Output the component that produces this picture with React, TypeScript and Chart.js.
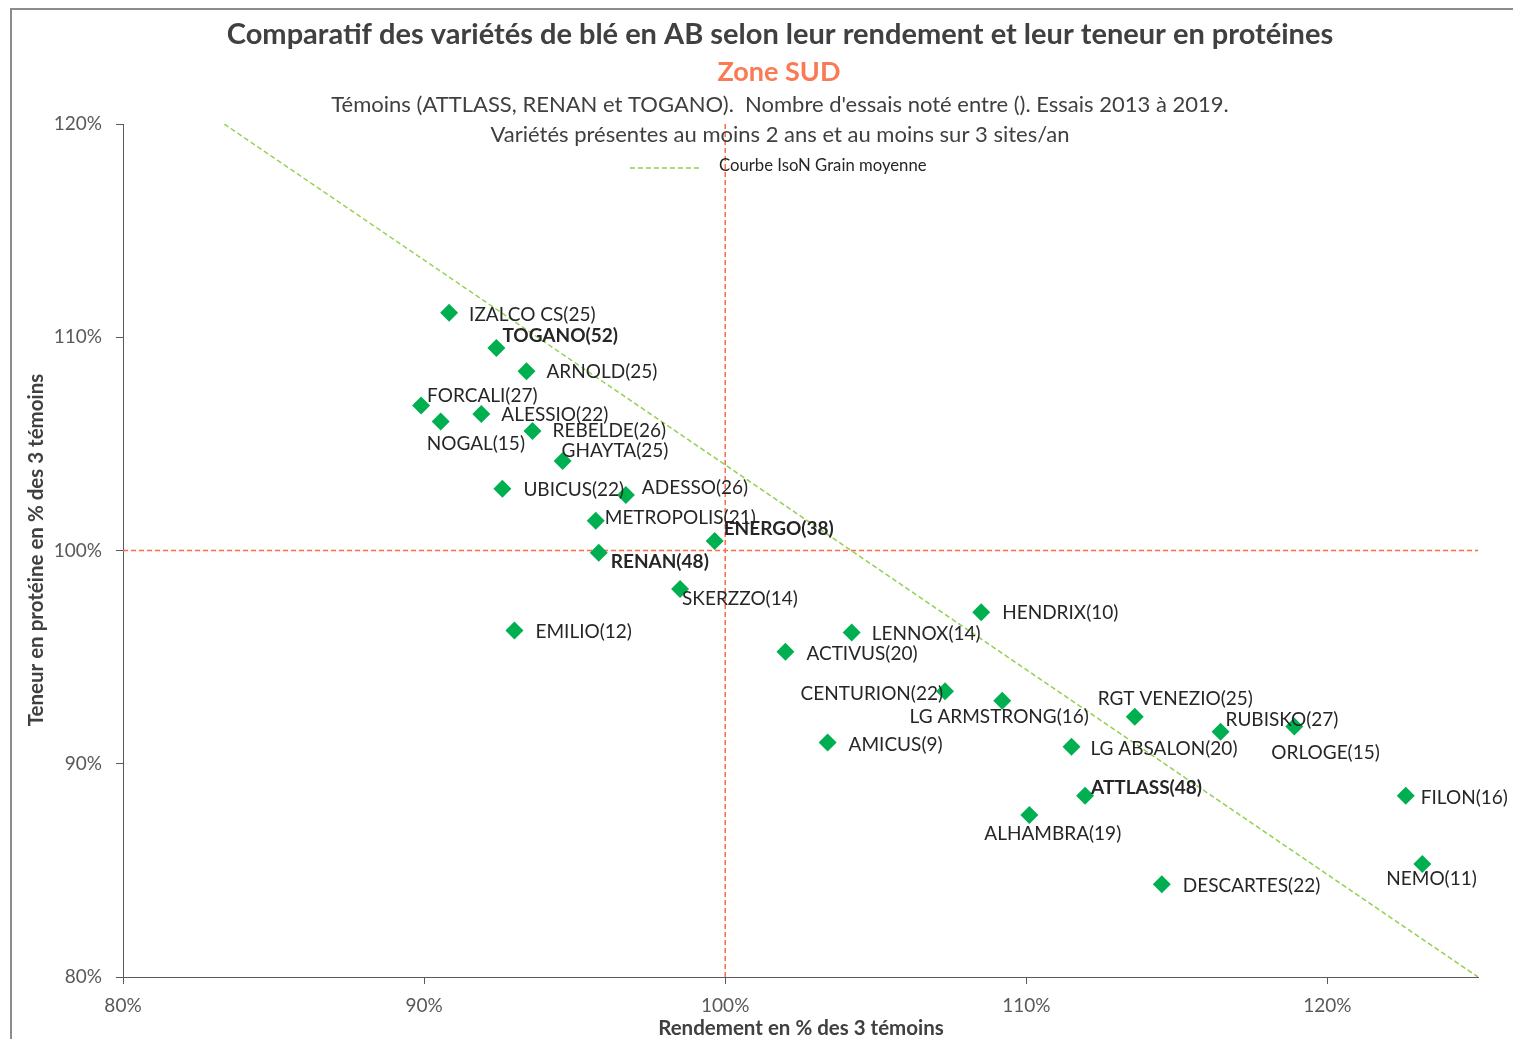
import React, { useEffect, useRef } from "react";
import { Chart, registerables } from "chart.js";

Chart.register(...registerables);

// ---------- DATA ----------
const varieties = [
  "IZALCO CS", "TOGANO", "ARNOLD", "FORCALI", "ALESSIO", "NOGAL", "REBELDE", "GHAYTA",
  "UBICUS", "ADESSO", "METROPOLIS", "ENERGO", "RENAN", "SKERZZO", "EMILIO", "HENDRIX",
  "LENNOX", "ACTIVUS", "CENTURION", "LG ARMSTRONG", "RGT VENEZIO", "RUBISKO", "ORLOGE",
  "AMICUS", "LG ABSALON", "ATTLASS", "ALHAMBRA", "FILON", "NEMO", "DESCARTES",
];
const trials = [25, 52, 25, 27, 22, 15, 26, 25, 22, 26, 21, 38, 48, 14, 12, 10, 14, 20, 22, 16, 25, 27, 15, 9, 20, 48, 19, 16, 11, 22];
const rendement = [
  90.83, 92.4, 93.4, 89.9, 91.9, 90.55, 93.6, 94.6,
  92.6, 96.7, 95.7, 99.65, 95.8, 98.5, 93.0, 108.5,
  104.2, 102.0, 107.3, 109.2, 113.6, 116.45, 118.9,
  103.4, 111.5, 111.95, 110.1, 122.6, 123.15, 114.5,
];
const proteine = [
  111.15, 109.5, 108.4, 106.8, 106.4, 106.05, 105.6, 104.2,
  102.9, 102.6, 101.4, 100.45, 99.9, 98.2, 96.25, 97.1,
  96.15, 95.25, 93.4, 92.95, 92.2, 91.5, 91.75,
  91.0, 90.8, 88.5, 87.6, 88.5, 85.3, 84.35,
];
const controls = ["TOGANO", "RENAN", "ATTLASS", "ENERGO"];
const isoNX = [83.36, 125];
const isoNY = [120, 80];
const refX = 100;
const refY = 100;
const xTicks = [80, 90, 100, 110, 120];
const yTicks = [80, 90, 100, 110, 120];

// ---------- LABEL PLACEMENT (px offsets from the point) ----------
const labelOffsets: [number, number, CanvasTextAlign][] = [
  [20, 2, "left"], [6, -12, "left"], [20, 1, "left"], [6, -10, "left"], [20, 1, "left"],
  [-14, 22, "left"], [20, 0, "left"], [-1, -10, "left"], [21, 1, "left"], [16, -7, "left"],
  [9, -3, "left"], [9, -12, "left"], [12, 9, "left"], [2, 10, "left"], [21, 1, "left"],
  [21, 1, "left"], [20, 1, "left"], [21, 2, "left"], [-2, 3, "right"], [-3, 16, "center"],
  [-37, -18, "left"], [5, -12, "left"], [-23, 26, "left"], [21, 2, "left"], [19, 2, "left"],
  [6, -8, "left"], [-45, 19, "left"], [15, 2, "left"], [-36, 15, "left"], [21, 2, "left"],
];

const FONT = "Lato, 'Open Sans', sans-serif";
const GREEN = "#00B050";
const ISO_GREEN = "#92D050";
const RED = "#FF6A45";

const decorPlugin = {
  id: "decor",
  beforeDraw(chart: any) {
    const ctx = chart.ctx;
    ctx.save();
    ctx.fillStyle = "#ffffff";
    ctx.fillRect(0, 0, chart.width, chart.height);
    ctx.strokeStyle = "#8c8c8c";
    ctx.lineWidth = 2;
    ctx.beginPath();
    ctx.moveTo(11, chart.height);
    ctx.lineTo(11, 9);
    ctx.lineTo(chart.width, 9);
    ctx.stroke();
    ctx.restore();
  },
  afterDraw(chart: any) {
    const ctx = chart.ctx;
    ctx.save();
    ctx.textAlign = "center";
    ctx.textBaseline = "middle";
    ctx.fillStyle = "#404040";
    ctx.font = `bold 29px ${FONT}`;
    ctx.fillText("Comparatif des variétés de blé en AB selon leur rendement et leur teneur en protéines", 780, 35);
    ctx.fillStyle = "#F97A54";
    ctx.font = `bold 27px ${FONT}`;
    ctx.fillText("Zone SUD", 779, 72);
    ctx.fillStyle = "#404040";
    ctx.font = `22px ${FONT}`;
    ctx.fillText("Témoins (ATTLASS, RENAN et TOGANO).  Nombre d'essais noté entre (). Essais 2013 à 2019.", 780, 105);
    ctx.fillText("Variétés présentes au moins 2 ans et au moins sur 3 sites/an", 780, 135);
    // legend
    ctx.strokeStyle = ISO_GREEN;
    ctx.lineWidth = 1.5;
    ctx.setLineDash([5, 3]);
    ctx.beginPath();
    ctx.moveTo(630, 168);
    ctx.lineTo(701, 168);
    ctx.stroke();
    ctx.setLineDash([]);
    ctx.textAlign = "left";
    ctx.fillStyle = "#262626";
    ctx.font = `16.7px ${FONT}`;
    ctx.fillText("Courbe IsoN Grain moyenne", 719, 166);
    // axis titles
    ctx.fillStyle = "#404040";
    ctx.textAlign = "center";
    ctx.font = `bold 20.5px ${FONT}`;
    ctx.fillText("Rendement en % des 3 témoins", 801, 1028);
    ctx.translate(36, 550);
    ctx.rotate(-Math.PI / 2);
    ctx.fillText("Teneur en protéine en % des 3 témoins", 0, 0);
    ctx.restore();
  },
  afterDatasetsDraw(chart: any) {
    const ctx = chart.ctx;
    const xs = chart.scales.x;
    const ys = chart.scales.y;
    ctx.save();
    ctx.textBaseline = "middle";
    ctx.fillStyle = "#262626";
    varieties.forEach((name, i) => {
      const px = xs.getPixelForValue(rendement[i]);
      const py = ys.getPixelForValue(proteine[i]);
      const [dx, dy, align] = labelOffsets[i];
      const bold = controls.includes(name);
      ctx.font = `${bold ? "bold " : ""}19px ${FONT}`;
      ctx.textAlign = align;
      ctx.fillText(`${name}(${trials[i]})`, px + dx, py + dy);
    });
    ctx.restore();
  },
};

export default function App() {
  const ref = useRef<HTMLCanvasElement>(null);
  useEffect(() => {
    if (!ref.current) return;
    const chart = new Chart(ref.current, {
      type: "scatter",
      data: {
        datasets: [
          {
            label: "Variétés",
            data: rendement.map((x, i) => ({ x, y: proteine[i] })),
            pointStyle: "rectRot",
            pointRadius: 9,
            pointHoverRadius: 9,
            backgroundColor: GREEN,
            borderColor: GREEN,
            borderWidth: 0,
          },
          {
            label: "Courbe IsoN Grain moyenne",
            data: isoNX.map((x, i) => ({ x, y: isoNY[i] })),
            showLine: true,
            borderColor: ISO_GREEN,
            borderWidth: 1.5,
            borderDash: [5, 3],
            pointRadius: 0,
          },
          {
            label: "ref x",
            data: [{ x: refX, y: yTicks[0] }, { x: refX, y: yTicks[yTicks.length - 1] }],
            showLine: true,
            borderColor: RED,
            borderWidth: 1.5,
            borderDash: [5, 3],
            pointRadius: 0,
          },
          {
            label: "ref y",
            data: [{ x: xTicks[0], y: refY }, { x: 125, y: refY }],
            showLine: true,
            borderColor: RED,
            borderWidth: 1.5,
            borderDash: [5, 3],
            pointRadius: 0,
          },
        ],
      },
      options: {
        responsive: false,
        animation: false,
        devicePixelRatio: 1,
        layout: { padding: { left: 0, top: 124, right: 35, bottom: 0 } },
        plugins: {
          legend: { display: false },
          title: { display: false },
          tooltip: { enabled: false },
        },
        scales: {
          x: {
            type: "linear",
            min: 80,
            max: 125,
            afterBuildTicks: (s: any) => {
              s.ticks = xTicks.map((v) => ({ value: v }));
            },
            afterFit: (s: any) => {
              s.height = 62;
            },
            ticks: {
              callback: (v: any) => `${v}%`,
              color: "#595959",
              font: { family: FONT, size: 19 },
              padding: 10,
            },
            grid: { drawOnChartArea: false, drawTicks: true, tickLength: 7, color: "#595959" },
            border: { color: "#595959", width: 1 },
          },
          y: {
            type: "linear",
            min: 80,
            max: 120,
            afterBuildTicks: (s: any) => {
              s.ticks = yTicks.map((v) => ({ value: v }));
            },
            afterFit: (s: any) => {
              s.width = 123;
            },
            ticks: {
              callback: (v: any) => `${v}%`,
              color: "#595959",
              font: { family: FONT, size: 19 },
              padding: 14,
            },
            grid: { drawOnChartArea: false, drawTicks: true, tickLength: 7, color: "#595959" },
            border: { color: "#595959", width: 1 },
          },
        },
      },
      plugins: [decorPlugin],
    } as any);
    return () => chart.destroy();
  }, []);
  return (
    <div style={{ position: "absolute", left: 0, top: 0, width: 1513, height: 1039 }}>
      <canvas ref={ref} width={1513} height={1039} style={{ width: 1513, height: 1039, display: "block" }} />
    </div>
  );
}
